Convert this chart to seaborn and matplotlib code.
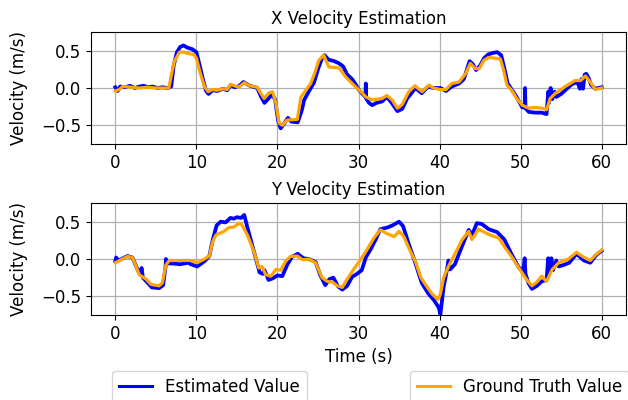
import matplotlib
matplotlib.use("Agg")
import matplotlib.pyplot as plt
import seaborn as sns
from matplotlib.lines import Line2D

# ---------------- data ----------------
x_true_t = [0.0, 0.5, 0.9, 2.0, 3.0, 4.0, 5.0, 6.0, 6.6, 7.0, 7.3, 7.9, 8.5, 9.0, 9.7, 10.0, 10.5,
            11.0, 11.45, 12.0, 12.6, 13.3, 13.8, 14.25, 14.7, 15.2, 15.9, 16.6, 17.5, 18.0, 18.35,
            18.9, 19.4, 19.8, 20.2, 20.6, 21.2, 22.45, 22.9, 23.5, 24.1, 24.6, 25.1, 25.7, 26.35,
            27.6, 28.4, 29.4, 30.5, 30.9, 31.7, 32.9, 33.5, 34.15, 34.8, 35.4, 36.2, 36.95, 37.85,
            38.7, 39.2, 40.1, 40.8, 41.5, 42.4, 43.2, 43.8, 44.4, 44.9, 45.45, 46.05, 47.5, 47.9,
            48.3, 48.9, 49.5, 50.2, 51.0, 51.8, 52.6, 53.2, 53.65, 54.3, 55.5, 56.7, 57.4, 58.0,
            58.6, 59.2, 60.0]
x_true_v = [-0.04, -0.02, 0.02, 0.01, 0.0, 0.01, 0.0, 0.0, 0.0, 0.22, 0.36, 0.48, 0.48, 0.46, 0.45,
            0.40, 0.19, 0.02, -0.05, -0.02, -0.03, -0.01, -0.02, 0.05, 0.03, 0.01, 0.07, 0.03, 0.01,
            -0.08, -0.14, -0.07, -0.05, -0.20, -0.47, -0.50, -0.43, -0.42, -0.12, -0.03, 0.06, 0.20,
            0.37, 0.44, 0.28, 0.27, 0.15, 0.04, -0.07, -0.12, -0.16, -0.14, -0.10, -0.16, -0.27,
            -0.22, -0.05, 0.03, -0.05, 0.04, 0.0, -0.02, -0.02, 0.06, 0.08, 0.19, 0.33, 0.26, 0.26,
            0.37, 0.41, 0.39, 0.24, 0.04, -0.03, -0.14, -0.23, -0.27, -0.26, -0.27, -0.29, -0.14,
            -0.07, 0.02, 0.10, 0.10, 0.16, 0.08, -0.02, 0.0]

x_est_t = [0.0, 0.3, 0.6, 1.2, 1.8, 2.4, 3.0, 3.5, 4.0, 4.6, 5.2, 5.8, 6.5, 6.9, 7.2, 7.6, 8.0, 8.4,
           8.9, 9.5, 10.0, 10.3, 10.8, 11.2, 11.5, 12.0, 12.6, 13.3, 13.8, 14.25, 14.7, 15.2, 15.8,
           16.6, 17.5, 18.0, 18.4, 18.9, 19.3, 19.7, 20.1, 20.4, 20.8, 21.3, 21.7, 22.5, 23.0, 23.3,
           23.9, 24.5, 25.0, 25.5, 25.8, 26.3, 27.0, 27.6, 28.1, 28.6, 29.2, 29.7, 30.0, 30.5,
           30.85, 30.9, 30.95, 31.3, 31.7, 32.2, 32.9, 33.5, 34.1, 34.8, 35.4, 36.0, 36.6, 37.0,
           37.8, 38.6, 39.2, 40.1, 40.8, 41.5, 42.4, 43.0, 43.7, 44.1, 44.5, 45.0, 45.5, 46.0,
           46.6, 47.1, 47.6, 48.0, 48.4, 48.9, 49.5, 50.2, 50.5, 50.55, 50.6, 51.0, 51.8, 52.6,
           53.2, 53.4, 53.5, 53.7, 53.9, 54.2, 54.4, 55.0, 55.6, 56.3, 57.0, 57.3, 57.5, 57.7,
           57.9, 58.1, 58.4, 58.7, 59.2, 60.0]
x_est_v = [0.01, -0.04, 0.02, 0.01, 0.03, 0.0, 0.02, 0.03, 0.01, 0.02, 0.0, 0.01, 0.0, 0.02, 0.30,
           0.48, 0.55, 0.57, 0.54, 0.52, 0.48, 0.35, 0.12, -0.04, -0.08, -0.03, -0.04, -0.01,
           -0.03, 0.04, 0.01, 0.02, 0.08, 0.03, 0.0, -0.12, -0.20, -0.14, -0.09, -0.15, -0.45,
           -0.54, -0.48, -0.40, -0.45, -0.46, -0.30, -0.16, -0.04, 0.07, 0.25, 0.40, 0.44, 0.38,
           0.36, 0.33, 0.29, 0.18, 0.12, 0.04, -0.02, -0.08, -0.12, 0.06, -0.14, -0.20, -0.23,
           -0.20, -0.18, -0.12, -0.20, -0.31, -0.28, -0.14, -0.06, 0.0, -0.07, 0.02, 0.0, 0.0,
           -0.04, 0.02, 0.06, 0.12, 0.36, 0.32, 0.24, 0.30, 0.40, 0.45, 0.47, 0.48, 0.44, 0.26,
           0.06, -0.02, -0.12, -0.26, -0.26, 0.0, -0.27, -0.32, -0.33, -0.33, -0.35, -0.05,
           -0.20, 0.0, -0.15, -0.05, -0.12, -0.08, -0.02, 0.05, 0.08, -0.01, 0.12, -0.01, 0.18,
           0.19, 0.13, 0.04, -0.01, 0.01]

y_true_t = [0.0, 0.7, 1.5, 2.1, 2.5, 2.95, 3.8, 4.4, 5.4, 5.8, 6.25, 6.65, 8.0, 9.3, 10.1, 11.0,
            11.6, 12.0, 12.4, 13.4, 14.0, 14.65, 15.3, 15.6, 16.3, 17.1, 17.7, 18.1, 18.55, 19.2,
            19.8, 20.4, 21.0, 21.6, 22.45, 23.1, 23.9, 24.7, 25.5, 26.15, 26.8, 27.4, 28.0, 28.6,
            29.4, 30.25, 30.9, 31.9, 32.7, 33.5, 34.4, 35.0, 35.6, 36.2, 37.0, 37.7, 38.5, 39.1,
            39.8, 40.1, 40.5, 41.1, 41.95, 42.8, 43.6, 44.0, 44.8, 46.05, 47.3, 48.1, 48.9, 49.9,
            50.7, 51.4, 52.0, 52.6, 53.2, 53.9, 54.7, 55.9, 56.9, 57.7, 58.6, 59.2, 60.0]
y_true_v = [-0.05, -0.01, 0.035, 0.02, -0.08, -0.21, -0.27, -0.34, -0.36, -0.32, -0.08, -0.02,
            -0.02, -0.02, -0.05, 0.0, 0.04, 0.23, 0.32, 0.37, 0.42, 0.43, 0.48, 0.46, 0.32, 0.10,
            -0.12, -0.10, -0.21, -0.23, -0.14, -0.15, -0.03, 0.035, 0.04, -0.01, 0.0, -0.05, -0.25,
            -0.30, -0.31, -0.36, -0.38, -0.27, -0.14, -0.01, 0.10, 0.28, 0.39, 0.34, 0.30, 0.37,
            0.30, 0.15, -0.03, -0.25, -0.38, -0.47, -0.54, -0.47, -0.25, -0.10, 0.08, 0.26, 0.37,
            0.26, 0.40, 0.33, 0.28, 0.15, 0.03, -0.14, -0.27, -0.36, -0.31, -0.23, -0.30, -0.14,
            -0.05, 0.0, 0.09, 0.03, -0.02, 0.05, 0.12]

y_est_t = [0.0, 0.1, 0.4, 1.5, 2.1, 2.5, 3.0, 3.25, 3.4, 4.0, 4.5, 5.4, 5.9, 6.2, 6.25, 6.4, 7.0,
           8.0, 9.0, 9.3, 10.1, 11.0, 11.6, 12.0, 12.5, 13.0, 13.6, 14.2, 14.6, 15.0, 15.5, 15.9,
           16.3, 17.3, 17.8, 18.2, 18.4, 18.9, 19.4, 20.0, 20.6, 21.2, 21.8, 22.5, 23.2, 23.9,
           24.7, 25.3, 25.9, 26.4, 26.9, 27.5, 28.0, 28.6, 29.2, 29.8, 30.4, 30.9, 31.6, 32.2,
           32.7, 33.5, 34.2, 35.0, 35.5, 36.2, 37.0, 37.8, 38.6, 39.3, 39.9, 40.1, 40.5, 40.9,
           41.1, 41.3, 41.9, 42.8, 43.6, 44.0, 44.6, 45.2, 46.05, 47.1, 48.0, 48.9, 49.7, 50.3,
           50.5, 50.6, 51.0, 51.4, 52.0, 52.6, 53.2, 53.4, 53.5, 53.8, 54.0, 54.4, 54.7, 55.3,
           56.0, 56.9, 57.8, 58.6, 59.3, 60.0]
y_est_v = [-0.03, 0.02, -0.02, 0.04, 0.02, -0.08, -0.20, -0.12, -0.25, -0.32, -0.38, -0.39, -0.35,
           -0.10, 0.0, -0.06, -0.06, -0.07, -0.05, -0.07, -0.10, -0.03, 0.04, 0.25, 0.45, 0.50,
           0.49, 0.55, 0.54, 0.56, 0.55, 0.59, 0.42, 0.02, -0.18, -0.20, -0.15, -0.28, -0.26,
           -0.22, -0.23, -0.08, 0.03, 0.07, 0.01, 0.0, -0.04, -0.22, -0.35, -0.27, -0.25, -0.37,
           -0.41, -0.36, -0.24, -0.20, -0.15, 0.02, 0.15, 0.28, 0.40, 0.42, 0.45, 0.50, 0.44,
           0.20, -0.05, -0.32, -0.46, -0.55, -0.65, -0.74, -0.38, -0.15, -0.02, -0.14, -0.07,
           0.18, 0.39, 0.32, 0.48, 0.47, 0.40, 0.36, 0.26, 0.06, -0.10, -0.18, 0.01, -0.20, -0.33,
           -0.40, -0.36, -0.30, -0.28, 0.01, -0.20, 0.01, -0.15, -0.02, -0.10, -0.08, -0.05, 0.07,
           -0.02, -0.05, 0.05, 0.11]

titles = ["X Velocity Estimation", "Y Velocity Estimation"]
y_label = "Velocity (m/s)"
x_label = "Time (s)"
legend_labels = ["Estimated Value", "Ground Truth Value"]

# ---------------- plot ----------------
plt.rcParams["font.size"] = 12
fig = plt.figure(figsize=(6.28, 4.0), dpi=100)
ax1 = fig.add_axes([91 / 628, 1 - 144 / 400, 535 / 628, 112 / 400])
ax2 = fig.add_axes([91 / 628, 1 - 315 / 400, 535 / 628, 112 / 400])

series = [(ax1, x_est_t, x_est_v, x_true_t, x_true_v), (ax2, y_est_t, y_est_v, y_true_t, y_true_v)]
for i, (ax, et, ev, tt, tv) in enumerate(series):
    sns.lineplot(x=et, y=ev, ax=ax, color="blue", linewidth=2.7, estimator=None, sort=False)
    sns.lineplot(x=tt, y=tv, ax=ax, color="orange", linewidth=2.3, estimator=None, sort=False)
    ax.set_ylim(-0.75, 0.75)
    ax.set_xlim(-3, 63)
    ax.set_xticks([0, 10, 20, 30, 40, 50, 60])
    ax.set_yticks([-0.5, 0.0, 0.5])
    ax.grid(True, color="#b0b0b0", linewidth=0.9)
    ax.set_axisbelow(True)
    ax.set_title(titles[i], fontsize=12, pad=6)
    ax.set_ylabel(y_label)
    ax.yaxis.set_label_coords(-0.118, 0.5)
    ax.set_xlabel("")
ax2.set_xlabel(x_label)

h1 = Line2D([], [], color="blue", linewidth=2.2)
h2 = Line2D([], [], color="orange", linewidth=2.2)
fig.legend([h1], [legend_labels[0]], loc="upper left", bbox_to_anchor=(112 / 628, 1 - 371 / 400),
           fontsize=12, borderaxespad=0, frameon=True)
fig.legend([h2], [legend_labels[1]], loc="upper left", bbox_to_anchor=(410 / 628, 1 - 371 / 400),
           fontsize=12, borderaxespad=0, frameon=True)

fig.savefig("out.png", dpi=100)
